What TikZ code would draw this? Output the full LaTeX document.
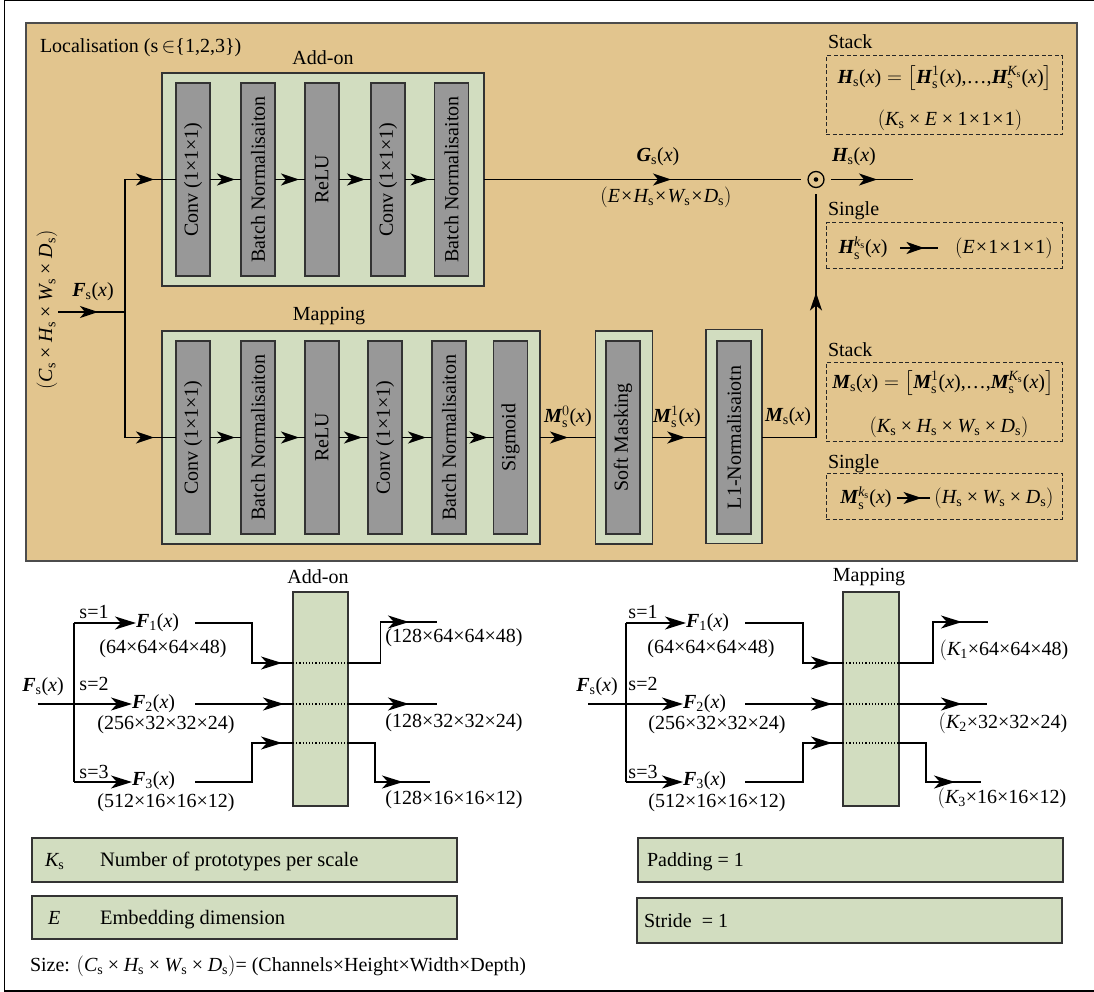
\documentclass[tikz,border=0pt]{standalone}
\usepackage{fontspec}
\setmainfont{Liberation Serif}
\usepackage{amsmath}
\usetikzlibrary{arrows.meta,decorations.markings,calc}

\definecolor{tanbg}{RGB}{226,197,142}
\definecolor{sage}{RGB}{210,221,192}
\definecolor{blkgray}{RGB}{152,152,152}

\newcommand{\fsz}{\fontsize{20}{24}\selectfont}
\newcommand{\bv}[1]{\text{\bfseries\itshape #1}}
\newcommand{\iv}[1]{\text{\itshape #1}}
\newcommand{\rs}{\text{s}}
\newcommand{\ofx}{\text{(\textit{x})}}
\newcommand{\tm}{\mskip1mu\text{×}\mskip1mu}
\newcommand{\tms}{\mskip4mu\text{×}\mskip4mu}

\begin{document}
\begin{tikzpicture}[x=1pt,y=-1pt,
  every node/.style={inner sep=0pt, outer sep=0pt, font=\fsz},
  frame/.style={draw=black, line width=1.3pt},
  tanbox/.style={draw=black!70, fill=tanbg, line width=1.4pt},
  grn/.style={draw=black!80, fill=sage, line width=1.2pt},
  blk/.style={draw=black!80, fill=blkgray, line width=1.1pt, minimum width=34pt, minimum height=193pt},
  conn/.style={draw=black, line width=1.6pt},
  arrowat/.style={postaction={decorate}, decoration={markings, mark=at position #1 with {\arrow{Stealth[length=18pt,width=12pt,inset=5pt]}}}},
  arrowbt/.style={postaction={decorate}, decoration={markings, mark=at position #1 with {\arrow{Stealth[length=21pt,width=13pt,inset=6pt]}}}},
  endarr/.style={-{Stealth[length=21pt,width=13pt,inset=6pt]}},
  dbox/.style={draw=black!85, line width=1pt, dash pattern=on 4pt off 2.5pt},
  fl/.style={anchor=west, text width=#1, align=left},
  dotline/.style={draw=black, line width=1.2pt, dotted}
]
\useasboundingbox (0,0) rectangle (1094,992);

% outer frame
\draw[frame] (1094,0.8) -- (4.5,0.8) -- (4.5,991) -- (1094,991);

% ===== Localisation panel =====
\node[tanbox, minimum width=1051pt, minimum height=538pt] (loc) at (551.5,292) {};
\node[anchor=base west] (loctitle) at (40,53) {Localisation (s\,$\in$\{1,2,3\})};

% Add-on
\node (aolab) at (323,58) {Add-on};
\node[grn, minimum width=322pt, minimum height=213pt] (ao) at (323,179.5) {};
\node[blk] (a1) at (193,179.5) {\rotatebox{90}{Conv (1×1×1)}};
\node[blk] (a2) at (258,179.5) {\rotatebox{90}{Batch Normalisaiton}};
\node[blk] (a3) at (322,179.5) {\rotatebox{90}{ReLU}};
\node[blk] (a4) at (388,179.5) {\rotatebox{90}{Conv (1×1×1)}};
\node[blk] (a5) at (451.5,179.5) {\rotatebox{90}{Batch Normalisaiton}};

% Mapping
\node (mplab) at (329,316) {Mapping};
\node[grn, minimum width=378pt, minimum height=213pt] (mp) at (351,437.5) {};
\node[blk] (m1) at (193,437.5) {\rotatebox{90}{Conv (1×1×1)}};
\node[blk] (m2) at (258,437.5) {\rotatebox{90}{Batch Normalisaiton}};
\node[blk] (m3) at (322,437.5) {\rotatebox{90}{ReLU}};
\node[blk] (m4) at (385,437.5) {\rotatebox{90}{Conv (1×1×1)}};
\node[blk] (m5) at (449,437.5) {\rotatebox{90}{Batch Normalisaiton}};
\node[blk] (m6) at (510.5,437.5) {\rotatebox{90}{Sigmoid}};

\node[grn, minimum width=56.5pt, minimum height=213pt] (smo) at (624,437.5) {};
\node[blk] (sm) at (623,437.5) {\rotatebox{90}{Soft Masking}};
\node[grn, minimum width=56pt, minimum height=214pt] (l1o) at (734,436.5) {};
\node[blk] (l1) at (734,437.5) {\rotatebox{90}{L1-Normalisaiotn}};

% input
\node (fslab) at (93,292) {$\bv{F}_{\rs}\ofx$};
\node[rotate=90] (cdim) at (47,310) {$(\iv{C}_{\rs}\tms\iv{H}_{\rs}\tms\iv{W}_{\rs}\tms\iv{D}_{\rs})$};
\coordinate (fin) at (58,312);
\coordinate (fsplit) at (125,312);
\coordinate (ftop) at (125,179.5);
\coordinate (fbot) at (125,437.5);
\draw[conn, arrowat=40pt] (fin) -- (fsplit);
\draw[conn] (ftop) -- (fbot);
\draw[conn, arrowat=29pt] (ftop) -- (a1.west);
\draw[conn, arrowat=29pt] (fbot) -- (m1.west);

\draw[conn, arrowat=-6pt] (a1.east) -- (a2.west);
\draw[conn, arrowat=-6pt] (a2.east) -- (a3.west);
\draw[conn, arrowat=-6pt] (a3.east) -- (a4.west);
\draw[conn, arrowat=-6pt] (a4.east) -- (a5.west);

\draw[conn, arrowat=-6pt] (m1.east) -- (m2.west);
\draw[conn, arrowat=-6pt] (m2.east) -- (m3.west);
\draw[conn, arrowat=-6pt] (m3.east) -- (m4.west);
\draw[conn, arrowat=-6pt] (m4.east) -- (m5.west);
\draw[conn, arrowat=-6pt] (m5.east) -- (m6.west);

% product
\node[circle, draw, line width=1.3pt, minimum size=16pt, outer sep=7pt] (dot) at (816,179.5) {};
\fill (dot.center) circle (2.3pt);
\draw[conn, arrowat=187pt] (ao.east) -- (dot.west);
\node (glab) at (658,157) {$\bv{G}_{\rs}\ofx$};
\node (gdim) at (666,197) {$(\iv{E}\tm\iv{H}_{\rs}\tm\iv{W}_{\rs}\tm\iv{D}_{\rs})$};
\coordinate (hout) at (913,179.5);
\draw[conn, arrowat=46pt] (dot.east) -- (hout);
\node (hlab) at (854,157) {$\bv{H}_{\rs}\ofx$};

\draw[conn, arrowat=28pt] (mp.east) -- (smo.west);
\draw[conn, arrowat=33pt] (smo.east) -- (l1o.west |- smo.east);
\draw[conn, arrowat=199pt] (l1o.east |- smo.east) -| (dot.south);
\node (m0lab) at (568,417) {$\bv{M}_{\rs}^{0}\ofx$};
\node (m1lab) at (677,417) {$\bv{M}_{\rs}^{1}\ofx$};
\node (mslab) at (788,417) {$\bv{M}_{\rs}\ofx$};

% Stack / Single (H)
\node[anchor=base west] (stk1) at (828,49) {Stack};
\node[dbox, minimum width=236pt, minimum height=79pt] (hstack) at (944,95.5) {};
\node (heq) at (945,78) {$\bv{H}_{\rs}\ofx=\left[\bv{H}_{\rs}^{1}\ofx\text{,…,}\bv{H}_{\rs}^{\iv{K}_{\rs}}\ofx\right]$};
\node (hdim) at (950,120) {$(\iv{K}_{\rs}\tms\iv{E}\tms\text{1}\tm\text{1}\tm\text{1})$};
\node[anchor=base west] (sgl1) at (828,216) {Single};
\node[dbox, minimum width=236pt, minimum height=45pt] (hsingle) at (944,245.5) {};
\node[outer xsep=13pt] (hk) at (863,248) {$\bv{H}_{\rs}^{\iv{k}_{\rs}}\ofx$};
\node[outer xsep=17pt] (hkd) at (1004,248) {$(\iv{E}\tm\text{1}\tm\text{1}\tm\text{1})$};
\draw[conn, line width=1.4pt, arrowat=24pt] (hk.east) -- (hkd.west);

% Stack / Single (M)
\node[anchor=base west] (stk2) at (828,356) {Stack};
\node[dbox, minimum width=236pt, minimum height=79pt] (mstack) at (944,401.5) {};
\node (meq) at (943,383) {$\bv{M}_{\rs}\ofx=\left[\bv{M}_{\rs}^{1}\ofx\text{,…,}\bv{M}_{\rs}^{\iv{K}_{\rs}}\ofx\right]$};
\node (mdim) at (949,427) {$(\iv{K}_{\rs}\tms\iv{H}_{\rs}\tms\iv{W}_{\rs}\tms\iv{D}_{\rs})$};
\node[anchor=base west] (sgl2) at (828,468) {Single};
\node[dbox, minimum width=236pt, minimum height=46pt] (msingle) at (944,496) {};
\node[outer xsep=5pt] (mk) at (866,498) {$\bv{M}_{\rs}^{\iv{k}_{\rs}}\ofx$};
\node[outer xsep=4pt] (mkd) at (994,498) {$(\iv{H}_{\rs}\tms\iv{W}_{\rs}\tms\iv{D}_{\rs})$};
\draw[conn, line width=1.4pt, arrowat=25pt] (mk.east) -- (mkd.west);

% ===== Bottom-left: Add-on scales =====
\node (colLlab) at (318,577) {Add-on};
\node[grn, minimum width=55pt, minimum height=214pt] (colL) at (320.5,699) {};
\node (fsL) at (43,687) {$\bv{F}_{\rs}\ofx$};
\coordinate (inL) at (37.5,704);
\coordinate (s1L) at (74,623);
\coordinate (s3L) at (74,782);
\draw[conn] (s1L) -- (s3L);
\node[fl=59pt] (f1L) at (136,623) {$\bv{F}_{\text{1}}\ofx$};
\node[fl=63pt] (f2L) at (132,704) {$\bv{F}_{\text{2}}\ofx$};
\node[fl=63pt] (f3L) at (132,781) {$\bv{F}_{\text{3}}\ofx$};
\draw[conn, endarr] (s1L) -- (f1L.west |- s1L);
\draw[conn, endarr] (inL) -- (f2L.west);
\draw[conn, endarr] (s3L) -- (f3L.west |- s3L);
\node (s1lab) at (94,612) {s=1};
\node (s2lab) at (94,684) {s=2};
\node (s3lab) at (94,772) {s=3};
\node (d1L) at (163,649) {(64×64×64×48)};
\node (d2L) at (166,725) {(256×32×32×24)};
\node (d3L) at (166,803) {(512×16×16×12)};
\coordinate (j1L) at (252,663);
\coordinate (r1L) at (293,663);
\coordinate (r2L) at (293,704);
\coordinate (j3L) at (252,743);
\coordinate (r3L) at (293,743);
\draw[conn, arrowbt=-11pt] (f1L.east) -| (j1L) -- (r1L);
\draw[conn, arrowbt=-9pt] (f2L.east) -- (r2L);
\draw[conn, arrowbt=-11pt] (f3L.east |- s3L) -| (j3L) -- (r3L);
\draw[dotline] (r1L) -- (r1L -| colL.east);
\draw[dotline] (r2L) -- (r2L -| colL.east);
\draw[dotline] (r3L) -- (r3L -| colL.east);
\coordinate (k1L) at (380.5,622);
\coordinate (e1L) at (437,622);
\coordinate (e2L) at (437,704);
\coordinate (k3L) at (375,782);
\coordinate (e3L) at (430,782);
\draw[conn, arrowbt=-28pt] (r1L -| colL.east) -| (k1L) -- (e1L);
\draw[conn, arrowbt=-28pt] (r2L -| colL.east) -- (e2L);
\draw[conn, arrowbt=-27pt] (r3L -| colL.east) -| (k3L) -- (e3L);
\node (o1L) at (454,638) {(128×64×64×48)};
\node (o2L) at (454,723) {(128×32×32×24)};
\node (o3L) at (454,800) {(128×16×16×12)};

% ===== Bottom-right: Mapping scales =====
\node (colRlab) at (869,577) {Mapping};
\node[grn, minimum width=56pt, minimum height=214pt] (colR) at (871,699) {};
\node (fsR) at (597,687) {$\bv{F}_{\rs}\ofx$};
\coordinate (inR) at (588,704);
\coordinate (s1R) at (626,623);
\coordinate (s3R) at (626,782);
\draw[conn] (s1R) -- (s3R);
\node[fl=59pt] (f1R) at (686,623) {$\bv{F}_{\text{1}}\ofx$};
\node[fl=62pt] (f2R) at (683,704) {$\bv{F}_{\text{2}}\ofx$};
\node[fl=62pt] (f3R) at (683,781) {$\bv{F}_{\text{3}}\ofx$};
\draw[conn, endarr] (s1R) -- (f1R.west |- s1R);
\draw[conn, endarr] (inR) -- (f2R.west);
\draw[conn, endarr] (s3R) -- (f3R.west |- s3R);
\node (s1labR) at (643,612) {s=1};
\node (s2labR) at (643,684) {s=2};
\node (s3labR) at (643,772) {s=3};
\node (d1R) at (711,649) {(64×64×64×48)};
\node (d2R) at (717,725) {(256×32×32×24)};
\node (d3R) at (717,803) {(512×16×16×12)};
\coordinate (j1R) at (803,663);
\coordinate (r1R) at (843,663);
\coordinate (r2R) at (843,704);
\coordinate (j3R) at (803,743);
\coordinate (r3R) at (843,743);
\draw[conn, arrowbt=-11pt] (f1R.east) -| (j1R) -- (r1R);
\draw[conn, arrowbt=-11pt] (f2R.east) -- (r2R);
\draw[conn, arrowbt=-11pt] (f3R.east |- s3R) -| (j3R) -- (r3R);
\draw[dotline] (r1R) -- (r1R -| colR.east);
\draw[dotline] (r2R) -- (r2R -| colR.east);
\draw[dotline] (r3R) -- (r3R -| colR.east);
\coordinate (k1R) at (933,622);
\coordinate (e1R) at (988,622);
\coordinate (e2R) at (987,704);
\coordinate (k3R) at (926,782);
\coordinate (e3R) at (981,782);
\draw[conn, arrowbt=-26pt] (r1R -| colR.east) -| (k1R) -- (e1R);
\draw[conn, arrowbt=-25pt] (r2R -| colR.east) -- (e2R);
\draw[conn, arrowbt=-26pt] (r3R -| colR.east) -| (k3R) -- (e3R);
\node (o1R) at (1004,650) {$(\iv{K}_{\text{1}}$×64×64×48)};
\node (o2R) at (1003,723) {$(\iv{K}_{\text{2}}$×32×32×24)};
\node (o3R) at (1002,798) {$(\iv{K}_{\text{3}}$×16×16×12)};

% ===== Legend boxes =====
\node[grn, minimum width=425pt, minimum height=44pt] (kbox) at (244.5,860) {};
\node[anchor=base west] (ktxt) at (45,866) {$\iv{K}_{\rs}$};
\node[anchor=base west, font=\fontsize{20.5}{24}\selectfont] (kdesc) at (100,866) {Number of prototypes per scale};
\node[grn, minimum width=425pt, minimum height=43pt] (ebox) at (244.5,917.5) {};
\node[anchor=base west] (etxt) at (48,924) {$\iv{E}$};
\node[anchor=base west, font=\fontsize{20.5}{24}\selectfont] (edesc) at (100,924) {Embedding dimension};
\node[grn, minimum width=425pt, minimum height=44pt] (pbox) at (850.5,860) {};
\node[anchor=base west] (ptxt) at (647,866) {Padding = 1};
\node[grn, minimum width=425pt, minimum height=45pt] (sbox) at (849.5,920.5) {};
\node[anchor=base west] (stxt) at (644,927) {Stride\ \ = 1};
\node[anchor=base west] (size) at (30,971) {Size: $(\iv{C}_{\rs}\tms\iv{H}_{\rs}\tms\iv{W}_{\rs}\tms\iv{D}_{\rs})$= (Channels×Height×Width×Depth)};
\end{tikzpicture}
\end{document}
